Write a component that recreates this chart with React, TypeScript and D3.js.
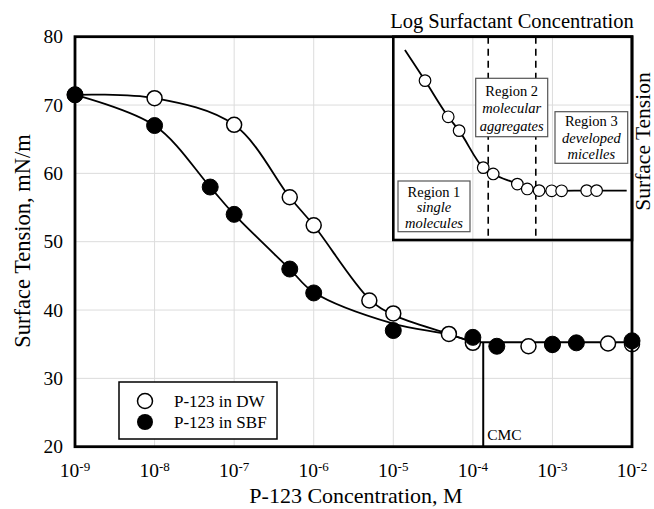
import React from "react";
import * as d3 from "d3";

// ---- main chart data ----
const concDW = [1e-9, 1e-8, 1e-7, 5e-7, 1e-6, 5e-6, 1e-5, 5e-5, 1e-4, 5e-4, 1e-3, 5e-3, 1e-2];
const tensionDW = [71.5, 71.0, 67.1, 56.5, 52.4, 41.4, 39.5, 36.5, 35.2, 34.7, 34.9, 35.1, 35.0];
const concSBF = [1e-9, 1e-8, 5e-8, 1e-7, 5e-7, 1e-6, 1e-5, 1e-4, 2e-4, 1e-3, 2e-3, 1e-2];
const tensionSBF = [71.5, 67.0, 58.0, 54.0, 46.0, 42.5, 37.0, 36.0, 34.7, 35.0, 35.2, 35.5];

// fitted curves
const fitConcDW = [1e-9, 1e-8, 1e-7, 5e-7, 1e-6, 5e-6, 1e-5, 5e-5, 1e-4];
const fitDW = [71.5, 71.0, 67.1, 56.5, 52.4, 41.6, 39.3, 36.5, 35.3];
const fitConcSBF = [1e-9, 1e-8, 5e-8, 1e-7, 5e-7, 1e-6, 1e-5, 5e-5, 1e-4];
const fitSBF = [71.5, 67.0, 58.0, 54.0, 46.0, 42.6, 38.0, 36.4, 35.3];
const plateauConc = [1e-4, 1e-2];
const plateauValue = 35.3;
const cmcConc = 1.35e-4;

const xTickExps = [-9, -8, -7, -6, -5, -4, -3, -2];
const yTicks = [20, 30, 40, 50, 60, 70, 80];

// ---- inset schematic (arbitrary 0..100 units) ----
const insetLineX = [4.9, 13.4, 23.2, 27.8, 38.0, 42.2, 52.4, 56.6, 61.6, 66.9, 71.1, 81.7, 85.9, 98.6];
const insetLineY = [93.5, 78.4, 60.6, 53.8, 35.6, 32.5, 27.5, 25.1, 24.3, 24.2, 24.2, 24.3, 24.3, 24.3];
const insetDashX = [40.1, 60.2];

const FONT = "'Liberation Serif', 'Times New Roman', serif";

export default function App() {
  const W = 654, H = 509;
  const L = 75, R = 632, T = 36.7, B = 446.7;
  const x = d3.scaleLog().domain([1e-9, 1e-2]).range([L, R]);
  const y = d3.scaleLinear().domain([20, 80]).range([B, T]);

  const IL = 393.3, IR = 632, IT = 36.7, IB = 240;
  const ix = d3.scaleLinear().domain([0, 100]).range([IL, 630]);
  const iy = d3.scaleLinear().domain([0, 100]).range([IB, IT]);

  const line = d3
    .line<[number, number]>()
    .x((d) => x(d[0]))
    .y((d) => y(d[1]))
    .curve(d3.curveCatmullRom.alpha(0.5));
  const dwPath = line(fitConcDW.map((c, i) => [c, fitDW[i]]));
  const sbfPath = line(fitConcSBF.map((c, i) => [c, fitSBF[i]]));

  const insetLine = d3
    .line<[number, number]>()
    .x((d) => ix(d[0]))
    .y((d) => iy(d[1]))
    .curve(d3.curveMonotoneX);
  const insetPath = insetLine(insetLineX.map((v, i) => [v, insetLineY[i]]));

  const gridX = xTickExps.slice(1, -1).map((e) => Math.pow(10, e));
  const gridY = yTicks.slice(1, -1);

  const regionBoxes = [
    { x0: 398, x1: 470, y0: 181, y1: 231.7, lines: ["Region 1", "single", "molecules"], ys: [196.5, 212, 228] },
    { x0: 475.7, x1: 547.7, y0: 78.3, y1: 136.7, lines: ["Region 2", "molecular", "aggregates"], ys: [95.5, 113, 130.5] },
    { x0: 555, x1: 627.7, y0: 111.7, y1: 163.3, lines: ["Region 3", "developed", "micelles"], ys: [125.5, 142.5, 159] },
  ];

  return (
    <svg
      width={W}
      height={H}
      style={{ position: "absolute", left: 0, top: 0, background: "#fff" }}
      fontFamily={FONT}
    >
      <rect x={0} y={0} width={W} height={H} fill="#fff" />
      {/* grid */}
      {gridX.map((v, i) => (
        <line key={"gx" + i} x1={x(v)} x2={x(v)} y1={T} y2={B} stroke="#dcdcdc" strokeWidth={1} />
      ))}
      {gridY.map((v, i) => (
        <line key={"gy" + i} x1={L} x2={R} y1={y(v)} y2={y(v)} stroke="#dcdcdc" strokeWidth={1} />
      ))}

      {/* inset */}
      {insetDashX.map((v, i) => (
        <line key={"dash" + i} x1={ix(v)} x2={ix(v)} y1={IT} y2={IB} stroke="#000" strokeWidth={1.6} strokeDasharray="7,5" />
      ))}
      <path d={insetPath || ""} fill="none" stroke="#000" strokeWidth={1.8} />
      {insetLineX.slice(1, -1).map((v, i) => (
        <circle key={"ic" + i} cx={ix(v)} cy={iy(insetLineY[i + 1])} r={5.8} fill="#fff" stroke="#000" strokeWidth={1.2} />
      ))}
      {regionBoxes.map((b, i) => (
        <g key={"rb" + i}>
          <rect x={b.x0} y={b.y0} width={b.x1 - b.x0} height={b.y1 - b.y0} fill="#fff" stroke="#555" strokeWidth={1.2} />
          {b.lines.map((t, j) => (
            <text
              key={j}
              x={(b.x0 + b.x1) / 2}
              y={b.ys[j]}
              textAnchor="middle"
              fontSize={14.5}
              fontStyle={j === 0 ? "normal" : "italic"}
              fill="#000"
            >
              {t}
            </text>
          ))}
        </g>
      ))}
      <rect x={IL} y={IT} width={IR - IL} height={IB - IT} fill="none" stroke="#000" strokeWidth={2.6} />
      <text x={(387 + 637) / 2} y={28} textAnchor="middle" fontSize={20.5} fill="#000">
        Log Surfactant Concentration
      </text>
      <text
        transform={`translate(650, ${141.5}) rotate(-90)`}
        textAnchor="middle"
        fontSize={21.5}
        fill="#000"
      >
        Surface Tension
      </text>

      {/* CMC */}
      <line x1={x(cmcConc)} x2={x(cmcConc)} y1={y(plateauValue)} y2={B} stroke="#000" strokeWidth={2} />
      <text x={x(cmcConc) + 4} y={440} fontSize={15.5} fill="#000">
        CMC
      </text>

      {/* curves */}
      <path d={dwPath || ""} fill="none" stroke="#000" strokeWidth={1.8} />
      <path d={sbfPath || ""} fill="none" stroke="#000" strokeWidth={1.8} />
      <line
        x1={x(plateauConc[0])}
        x2={x(plateauConc[1])}
        y1={y(plateauValue)}
        y2={y(plateauValue)}
        stroke="#000"
        strokeWidth={2}
      />

      {/* points */}
      {concDW.map((c, i) => (
        <circle key={"dw" + i} cx={x(c)} cy={y(tensionDW[i])} r={7.5} fill="#fff" stroke="#000" strokeWidth={1.5} />
      ))}
      {concSBF.map((c, i) => (
        <circle key={"sbf" + i} cx={x(c)} cy={y(tensionSBF[i])} r={8} fill="#000" stroke="#000" strokeWidth={1} />
      ))}

      {/* frame */}
      <rect x={L} y={T} width={R - L} height={B - T} fill="none" stroke="#000" strokeWidth={2.8} />

      {/* y ticks */}
      {yTicks.map((v) => (
        <text key={"yt" + v} x={63} y={y(v) + 6.6} textAnchor="end" fontSize={19.5} fill="#000">
          {v}
        </text>
      ))}
      {/* x ticks */}
      {xTickExps.map((e) => (
        <text key={"xt" + e} x={x(Math.pow(10, e))} y={477} textAnchor="middle" fontSize={19.5} fill="#000">
          10
          <tspan dy={-6.5} fontSize={13}>
            {String(e)}
          </tspan>
        </text>
      ))}

      {/* axis titles */}
      <text x={356} y={503} textAnchor="middle" fontSize={22} fill="#000">
        P-123 Concentration, M
      </text>
      <text transform={`translate(30, 241) rotate(-90)`} textAnchor="middle" fontSize={22.5} fill="#000">
        Surface Tension, mN/m
      </text>

      {/* legend */}
      <rect x={119} y={382} width={158} height={57} fill="#fff" stroke="#000" strokeWidth={1.5} />
      <circle cx={145} cy={401} r={7.5} fill="#fff" stroke="#000" strokeWidth={1.5} />
      <circle cx={145} cy={422} r={8} fill="#000" />
      <text x={174} y={407} fontSize={17} fill="#000">
        P-123 in DW
      </text>
      <text x={174} y={428} fontSize={17} fill="#000">
        P-123 in SBF
      </text>
    </svg>
  );
}
